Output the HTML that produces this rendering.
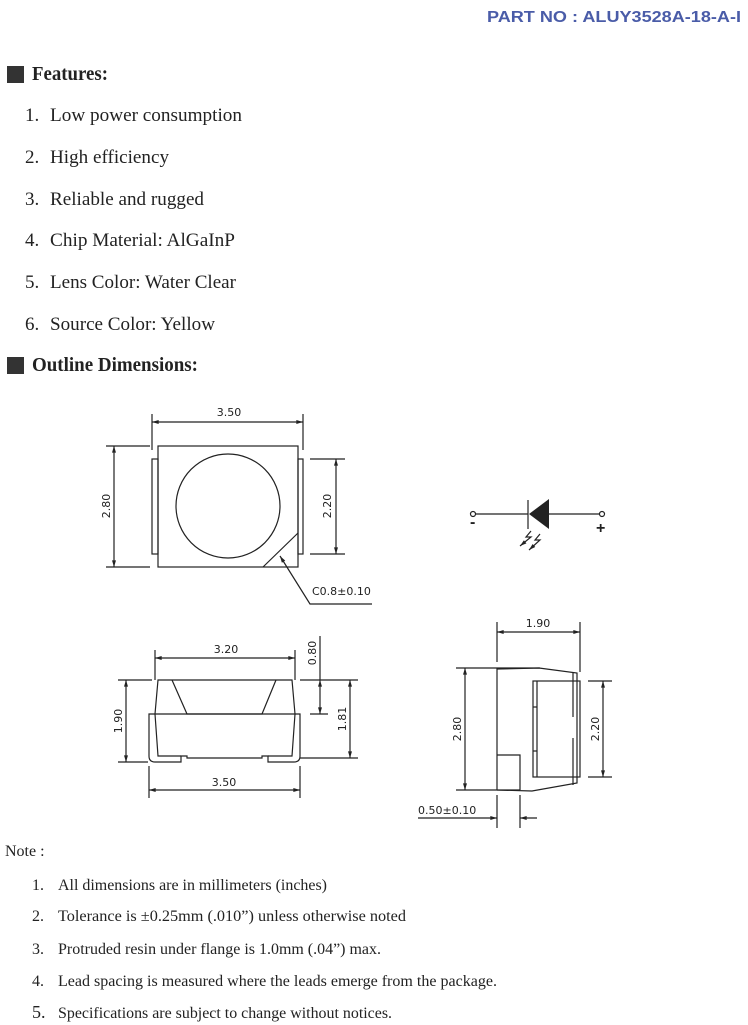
<!DOCTYPE html>
<html><head><meta charset="utf-8"><style>
html,body{margin:0;padding:0;background:#fff}
svg{display:block}
.d{font-family:"DejaVu Sans","Liberation Sans",sans-serif;font-size:11px;fill:#222}
</style></head><body>
<svg width="748" height="1025" viewBox="0 0 748 1025" xmlns="http://www.w3.org/2000/svg">
<defs>
<marker id="a" viewBox="0 0 10 6" refX="10" refY="3" markerWidth="8" markerHeight="4" orient="auto-start-reverse" markerUnits="userSpaceOnUse"><path d="M0,0L10,3L0,6z" fill="#222"/></marker>
</defs>
<text x="741" y="22" text-anchor="end" style="font-family:'Liberation Sans',sans-serif;font-weight:bold;font-size:16px" fill="#4a5ca8" textLength="254" lengthAdjust="spacingAndGlyphs">PART  NO : ALUY3528A-18-A-I</text>
<rect x="7" y="66" width="17" height="17" fill="#333"/>
<text x="32" y="80" style="font-family:'Liberation Serif',serif;font-size:20px;font-weight:bold" fill="#222" textLength="76" lengthAdjust="spacingAndGlyphs">Features:</text>
<g style="font-family:'Liberation Serif',serif;font-size:19px" fill="#222">
<text x="25" y="121">1.</text><text x="50" y="121" textLength="192" lengthAdjust="spacingAndGlyphs">Low power consumption</text>
<text x="25" y="163">2.</text><text x="50" y="163" textLength="119" lengthAdjust="spacingAndGlyphs">High efficiency</text>
<text x="25" y="205">3.</text><text x="50" y="205" textLength="154" lengthAdjust="spacingAndGlyphs">Reliable and rugged</text>
<text x="25" y="246">4.</text><text x="50" y="246" textLength="185" lengthAdjust="spacingAndGlyphs">Chip Material: AlGaInP</text>
<text x="25" y="288">5.</text><text x="50" y="288" textLength="186" lengthAdjust="spacingAndGlyphs">Lens Color: Water Clear</text>
<text x="25" y="330">6.</text><text x="50" y="330" textLength="165" lengthAdjust="spacingAndGlyphs">Source Color: Yellow</text>
</g>
<rect x="7" y="357" width="17" height="17" fill="#333"/>
<text x="32" y="371" style="font-family:'Liberation Serif',serif;font-size:20px;font-weight:bold" fill="#222" textLength="166" lengthAdjust="spacingAndGlyphs">Outline Dimensions:</text>

<g stroke="#222" stroke-width="1.2" fill="none">
<rect x="158" y="446" width="140" height="121"/>
<rect x="152" y="459" width="6" height="95"/>
<rect x="298" y="459" width="5" height="95"/>
<circle cx="228" cy="506" r="52"/>
<line x1="298" y1="533" x2="263" y2="567"/>
<line x1="152" y1="414" x2="152" y2="450"/><line x1="303" y1="414" x2="303" y2="450"/>
<line x1="152" y1="422" x2="303" y2="422" marker-start="url(#a)" marker-end="url(#a)"/>
<line x1="106" y1="446" x2="150" y2="446"/><line x1="106" y1="567" x2="150" y2="567"/>
<line x1="114" y1="446" x2="114" y2="567" marker-start="url(#a)" marker-end="url(#a)"/>
<line x1="310" y1="459" x2="345" y2="459"/><line x1="310" y1="554" x2="345" y2="554"/>
<line x1="336" y1="459" x2="336" y2="554" marker-start="url(#a)" marker-end="url(#a)"/>
<polyline points="372,604 310,604 280,556" marker-end="url(#a)"/>
<line x1="475" y1="514" x2="528" y2="514"/><line x1="549" y1="514" x2="600" y2="514"/>
<circle cx="473" cy="514" r="2.5" fill="#fff"/><circle cx="602" cy="514" r="2.5" fill="#fff"/>
<line x1="528" y1="500" x2="528" y2="529"/>
<polyline points="531,531 526,537 531,537 520,546" marker-end="url(#a)"/>
<polyline points="540,534 535,540 540,540 529,550" marker-end="url(#a)"/>
<polygon points="158,680 292,680 295,714 155,714"/>
<polyline points="172,680 187,714 262,714 276,680"/>
<path d="M155,714 H149 V756 Q149,762 155,762 H181 V756 H187 V758 H262 V756 H268 V762 H294 Q300,762 300,756 V714 H295"/>
<path d="M155,714 L158,756 H181 M295,714 L292,756 H268"/>
<line x1="155" y1="650" x2="155" y2="680"/><line x1="295" y1="650" x2="295" y2="680"/>
<line x1="155" y1="658" x2="295" y2="658" marker-start="url(#a)" marker-end="url(#a)"/>
<line x1="149" y1="766" x2="149" y2="798"/><line x1="300" y1="766" x2="300" y2="798"/>
<line x1="149" y1="790" x2="300" y2="790" marker-start="url(#a)" marker-end="url(#a)"/>
<line x1="118" y1="680" x2="152" y2="680"/><line x1="118" y1="762" x2="148" y2="762"/>
<line x1="126" y1="680" x2="126" y2="762" marker-start="url(#a)" marker-end="url(#a)"/>
<line x1="300" y1="680" x2="358" y2="680"/><line x1="310" y1="714" x2="328" y2="714"/><line x1="300" y1="758" x2="358" y2="758"/>
<line x1="320" y1="636" x2="320" y2="680"/>
<line x1="320" y1="680" x2="320" y2="714" marker-start="url(#a)" marker-end="url(#a)"/>
<line x1="350" y1="680" x2="350" y2="758" marker-start="url(#a)" marker-end="url(#a)"/>
<polyline points="497,790 497,669 539,668 577,673 577,783 532,791 497,790"/>
<rect x="533" y="681" width="47" height="96"/>
<line x1="537" y1="681" x2="537" y2="777"/>
<line x1="533" y1="707" x2="537" y2="707"/><line x1="533" y1="751" x2="537" y2="751"/>
<line x1="573" y1="673" x2="573" y2="717"/><line x1="573" y1="738" x2="573" y2="785"/>
<polyline points="497,755 520,755 520,790"/>
<line x1="497" y1="622" x2="497" y2="662"/><line x1="580" y1="622" x2="580" y2="672"/>
<line x1="497" y1="632" x2="580" y2="632" marker-start="url(#a)" marker-end="url(#a)"/>
<line x1="456" y1="668" x2="540" y2="668"/><line x1="456" y1="790" x2="520" y2="790"/>
<line x1="465" y1="668" x2="465" y2="790" marker-start="url(#a)" marker-end="url(#a)"/>
<line x1="588" y1="681" x2="612" y2="681"/><line x1="588" y1="777" x2="612" y2="777"/>
<line x1="603" y1="681" x2="603" y2="777" marker-start="url(#a)" marker-end="url(#a)"/>
<line x1="497" y1="795" x2="497" y2="828"/><line x1="520" y1="795" x2="520" y2="828"/>
<line x1="418" y1="818" x2="497" y2="818" marker-end="url(#a)"/>
<line x1="537" y1="818" x2="520" y2="818" marker-end="url(#a)"/>
</g>
<polygon points="529,514 549,499 549,529" fill="#222"/>
<text x="470" y="527" style="font-family:'Liberation Sans',sans-serif;font-size:16px;font-weight:bold" fill="#222">-</text>
<text x="596" y="533" style="font-family:'Liberation Sans',sans-serif;font-size:16px;font-weight:bold" fill="#222">+</text>
<g class="d">
<text x="229" y="416" text-anchor="middle">3.50</text>
<text transform="translate(110,506) rotate(-90)" text-anchor="middle">2.80</text>
<text transform="translate(331,506) rotate(-90)" text-anchor="middle">2.20</text>
<text x="312" y="595">C0.8±0.10</text>
<text x="226" y="653" text-anchor="middle">3.20</text>
<text x="224" y="786" text-anchor="middle">3.50</text>
<text transform="translate(122,721) rotate(-90)" text-anchor="middle">1.90</text>
<text transform="translate(316,653) rotate(-90)" text-anchor="middle">0.80</text>
<text transform="translate(346,719) rotate(-90)" text-anchor="middle">1.81</text>
<text x="538" y="627" text-anchor="middle">1.90</text>
<text transform="translate(461,729) rotate(-90)" text-anchor="middle">2.80</text>
<text transform="translate(599,729) rotate(-90)" text-anchor="middle">2.20</text>
<text x="418" y="814">0.50±0.10</text>
</g>
<g style="font-family:'Liberation Serif',serif;font-size:16px" fill="#222">
<text x="5" y="856">Note :</text>
<text x="32" y="890">1.</text><text x="58" y="890" textLength="269" lengthAdjust="spacingAndGlyphs">All dimensions are in millimeters (inches)</text>
<text x="32" y="921">2.</text><text x="58" y="921" textLength="348" lengthAdjust="spacingAndGlyphs">Tolerance is  ±0.25mm (.010”) unless otherwise noted</text>
<text x="32" y="954">3.</text><text x="58" y="954" textLength="323" lengthAdjust="spacingAndGlyphs">Protruded resin under flange is 1.0mm (.04”) max.</text>
<text x="32" y="986">4.</text><text x="58" y="986" textLength="439" lengthAdjust="spacingAndGlyphs">Lead spacing is measured where the leads emerge from the package.</text>
<text x="32" y="1018" style="font-size:18px">5.</text><text x="58" y="1018" textLength="334" lengthAdjust="spacingAndGlyphs">Specifications are subject to change without notices.</text>
</g>
</svg>
</body></html>
